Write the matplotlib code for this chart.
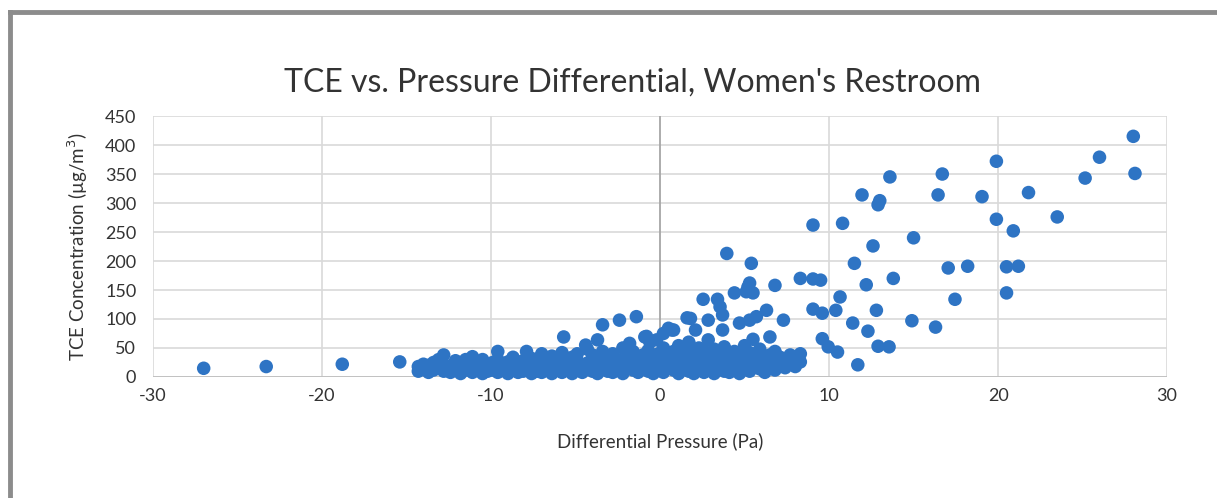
import matplotlib.pyplot as plt
from matplotlib.lines import Line2D

plt.rcParams['font.family'] = ['Lato', 'DejaVu Sans']
plt.rcParams['axes.unicode_minus'] = False

# differential pressure (Pa) and TCE concentration (ug/m3)
# sparse points first
x_sparse = [-27.0, -23.3, -18.8, -15.4,
            -5.7, -3.4, -2.4, -1.4, -0.8, 0.2, 0.8, -3.7, -0.9, -0.6, -1.8, -4.4,
            3.95, 5.4, 2.55, 3.4, 4.4, 5.3, 5.1, 5.5, 6.8, 8.3, 9.05, 9.5,
            9.05, 10.8, 11.95, 12.9, 13.0, 13.6, 12.6, 11.5, 12.2, 13.8, 15.0,
            10.65, 10.4, 9.05, 9.6, 11.4, 12.3, 12.8, 14.9, 16.3,
            9.6, 9.95, 10.5, 12.9, 13.55, 11.7,
            7.3, 6.3, 5.7, 4.7, 5.3, 3.55, 2.85, 1.8, 0.7, 3.7, 5.5, 6.5, 7.9,
            5.2, 3.7, 1.6, 0.5, 2.1, 2.85, 1.7, -0.2,
            28.0, 26.0, 25.15, 28.1, 19.9, 16.7, 16.45, 19.05, 21.8, 23.5,
            19.9, 20.9, 17.05, 18.2, 20.5, 21.2, 20.5, 17.45]
y_sparse = [15, 18, 22, 26,
            69, 90, 98, 104, 70, 75, 81, 64, 69, 60, 58, 55,
            213, 196, 134, 134, 145, 162, 147, 145, 158, 170, 169, 167,
            262, 265, 314, 297, 304, 345, 226, 196, 159, 170, 240,
            138, 115, 117, 110, 93, 79, 115, 97, 86,
            66, 52, 43, 53, 52, 21,
            98, 115, 104, 93, 98, 121, 98, 101, 81, 81, 65, 69, 29,
            155, 107, 102, 84, 81, 64, 60, 64,
            415, 379, 343, 351, 372, 350, 314, 311, 318, 276,
            272, 252, 188, 191, 190, 191, 145, 134]

# dense low-concentration band, grouped by pressure
band = {
    -14.3: [10, 18], -14.0: [14, 22], -13.7: [8, 20], -13.4: [12, 25],
    -13.1: [16, 30], -12.8: [10, 38, 22], -12.4: [8, 18], -12.1: [14, 28],
    -11.8: [6, 20], -11.5: [12, 30], -11.1: [8, 35, 18], -10.8: [14, 24],
    -10.5: [6, 20, 30], -10.2: [10, 16], -9.9: [25, 12], -9.6: [8, 44, 30],
    -9.3: [14, 20], -9.0: [6, 26], -8.7: [12, 34, 18], -8.4: [8, 22],
    -8.1: [16, 28, 10], -7.9: [44, 20], -7.6: [6, 14, 32], -7.3: [24, 10],
    -7.0: [18, 40, 8], -6.7: [14, 28], -6.4: [6, 22, 36], -6.1: [12, 30],
    -5.8: [18, 8, 42], -5.5: [26, 14], -5.2: [6, 34, 20], -4.9: [12, 40, 28],
    -4.6: [18, 8], -4.3: [24, 48, 14], -4.0: [30, 10, 38], -3.7: [20, 6],
    -3.4: [16, 44, 28], -3.1: [10, 34], -2.8: [22, 8, 40], -2.5: [14, 30],
    -2.2: [50, 18, 6], -1.9: [26, 36], -1.6: [12, 44, 20], -1.3: [30, 8],
    -1.0: [16, 38, 24], -0.7: [10, 46], -0.4: [20, 32, 6], -0.1: [14, 40],
    0.2: [8, 26, 50], 0.5: [18, 36], 0.8: [12, 44, 28], 1.1: [6, 22, 54],
    1.4: [16, 34, 46], 1.7: [10, 28, 58], 2.0: [20, 40, 6], 2.3: [14, 32, 50],
    2.6: [8, 24, 44], 2.9: [18, 36, 12], 3.2: [28, 48, 6], 3.5: [16, 38],
    3.8: [10, 24, 52], 4.1: [20, 34, 8], 4.4: [14, 44, 28], 4.7: [6, 22, 38],
    5.0: [16, 30, 54], 5.3: [10, 26, 42], 5.6: [20, 36], 5.9: [14, 30, 48],
    6.2: [8, 24], 6.5: [18, 38], 6.8: [12, 28, 44], 7.1: [20, 34],
    7.4: [16, 30], 7.7: [22, 38], 8.0: [18, 30], 8.3: [26, 40],
}

x_vals = list(x_sparse)
y_vals = list(y_sparse)
for px, ys in band.items():
    for yv in ys:
        x_vals.append(px)
        y_vals.append(yv)

x_ticks = [-30, -20, -10, 0, 10, 20, 30]
y_ticks = [0, 50, 100, 150, 200, 250, 300, 350, 400, 450]

fig = plt.figure(figsize=(12.17, 4.98), dpi=100)
ax = fig.add_axes([0.1257, 0.243, 0.8333, 0.524])

ax.set_xlim(-30, 30)
ax.set_ylim(0, 450)

# light gridlines
for yv in y_ticks:
    ax.axhline(yv, color='#d9d9d9', lw=1.2, zorder=1)
for xv in x_ticks:
    if xv != 0:
        ax.axvline(xv, color='#d9d9d9', lw=1.2, zorder=1)
ax.axvline(0, color='#a6a6a6', lw=1.3, zorder=1)
ax.axhline(0, color='#bfbfbf', lw=1.3, zorder=1)

ax.scatter(x_vals, y_vals, s=95, color='#2e74c4', edgecolors='none',
           zorder=3, clip_on=False)

for s in ax.spines.values():
    s.set_visible(False)
ax.set_xticks(x_ticks)
ax.set_yticks(y_ticks)
ax.tick_params(length=0, labelsize=13, colors='#333333', pad=8)
ax.tick_params(axis='y', pad=12)

ax.set_title("TCE vs. Pressure Differential, Women's Restroom",
             fontsize=23, color='#333333', pad=18, x=0.473)
ax.set_xlabel('Differential Pressure (Pa)', fontsize=13.5, color='#333333', labelpad=20)
ax.set_ylabel('TCE Concentration (µg/m$^3$)', fontsize=13.5, color='#333333', labelpad=11)

# grey frame at top and left of the picture
fig.add_artist(Line2D([0.0085, 1.0], [0.976, 0.976], color='#8c8c8c', lw=3.5))
fig.add_artist(Line2D([0.0085, 0.0085], [0.0, 0.976], color='#8c8c8c', lw=3.5))

fig.savefig('out.png', dpi=100)
